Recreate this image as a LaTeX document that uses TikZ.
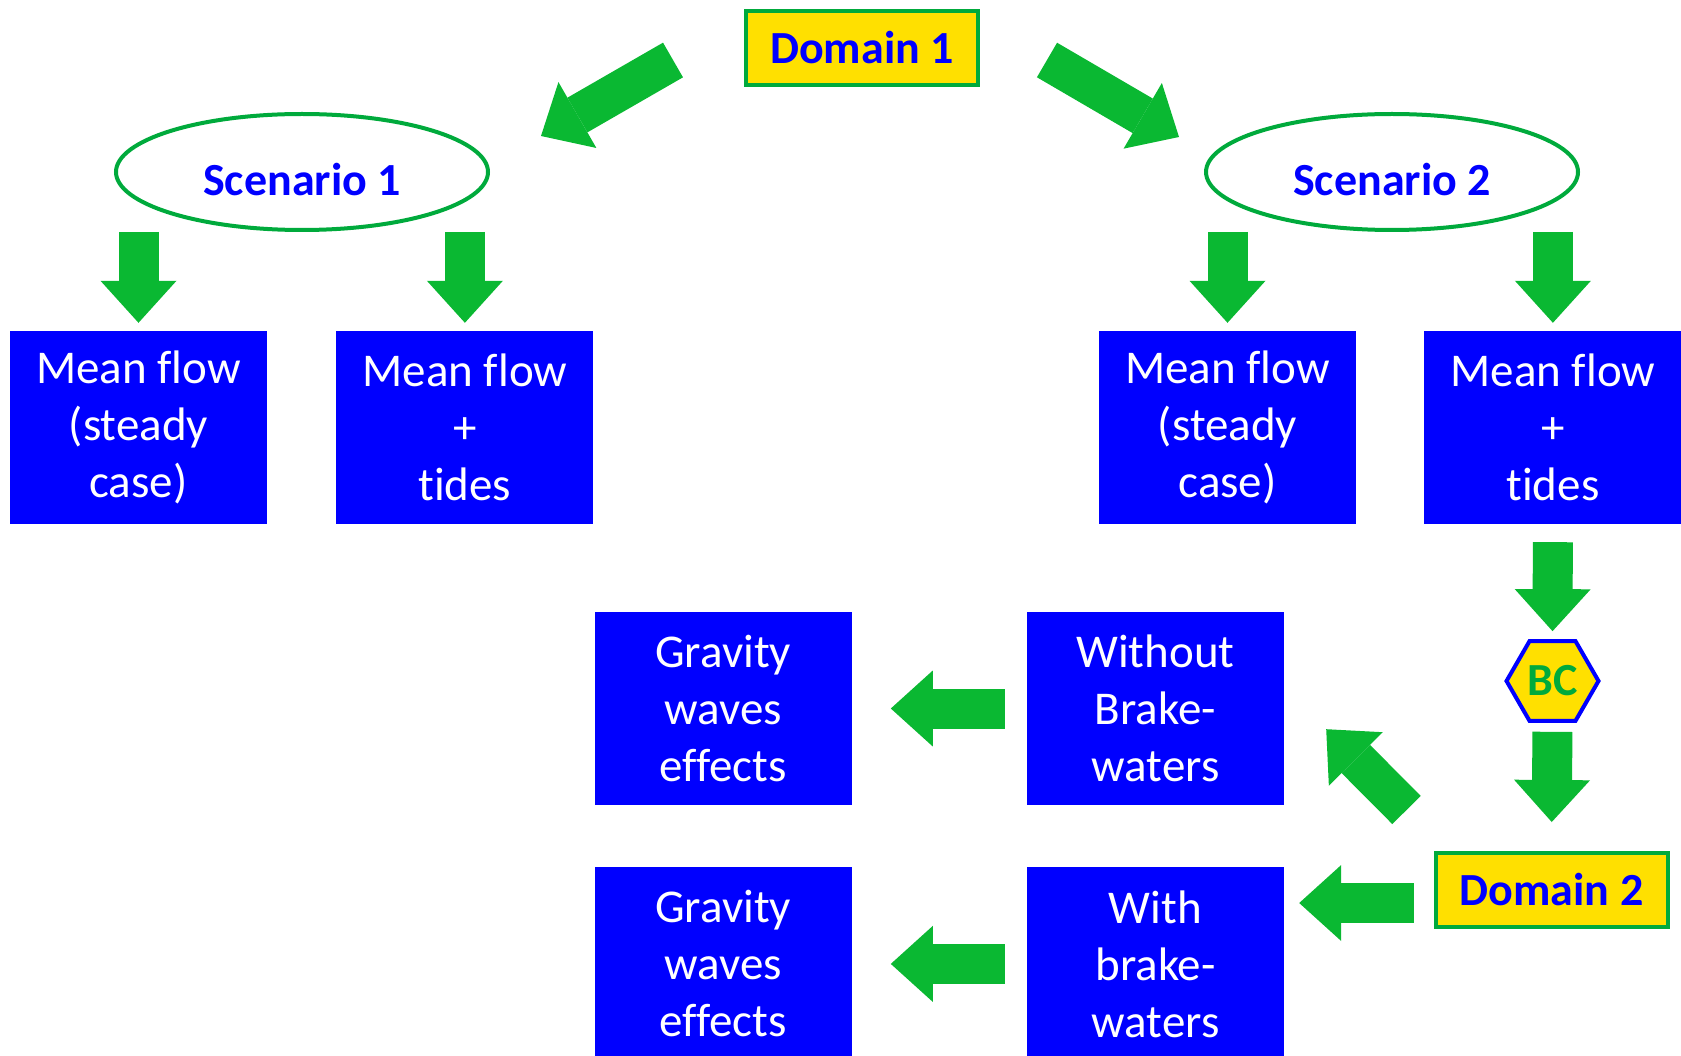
\documentclass[tikz,border=0pt]{standalone}
\usepackage{fontspec}
\setmainfont{Carlito}[Ligatures=NoCommon]
\usetikzlibrary{arrows.meta,positioning,shapes.geometric}
\definecolor{boxblue}{RGB}{0,0,255}
\definecolor{domyellow}{RGB}{255,224,0}
\definecolor{arrowgreen}{RGB}{10,184,50}
\definecolor{edgegreen}{RGB}{0,170,60}
\tikzset{
  flowbox/.style={
    fill=boxblue,
    text=white,
    align=center,
    inner sep=0pt,
    minimum width=257pt,
    minimum height=193pt,
    font=\fontsize{47pt}{57pt}\selectfont
  },
  domainbox/.style={
    fill=domyellow,
    draw=edgegreen,
    line width=4pt,
    text=boxblue,
    minimum width=232pt,
    minimum height=74pt,
    font=\fontsize{46pt}{55pt}\selectfont\bfseries
  },
  scenbox/.style={ellipse, draw=edgegreen, line width=4pt, fill=white,
    text=boxblue, minimum width=372pt, minimum height=116pt,
    text height=47pt, text depth=0pt,
    font=\fontsize{46pt}{55pt}\selectfont\bfseries},
  bcbox/.style={regular polygon, regular polygon sides=6, draw=boxblue,
    line width=4pt, fill=domyellow, text=edgegreen, inner sep=0pt,
    minimum size=92pt, font=\fontsize{46pt}{54pt}\selectfont\bfseries},
  bigarrow/.style={draw=arrowgreen, line width=40pt,
    -{Triangle[length=42pt, width=76pt, line width=0pt]}}
}
\begin{document}
\begin{tikzpicture}[x=1pt, y=-1pt]
        \path[use as bounding box, fill=white] (0,0) rectangle (1681,1056);
        % top of the tree
        \node[domainbox] (dom1) at (862,48) {Domain 1};
        \node[scenbox] (scen1) at (302,172) {Scenario 1};
        \node[scenbox] (scen2) at (1392,172) {Scenario 2};
        \node[flowbox] (s1steady) at (138.5,427.5) {Mean flow\\(steady\\case)};
        \node[flowbox, right=69pt of s1steady] (s1tides) {Mean flow\\+\\tides};
        \node[flowbox] (s2steady) at (1227.5,427.5) {Mean flow\\(steady\\case)};
        \node[flowbox, right=68pt of s2steady] (s2tides) {Mean flow\\+\\tides};
        % nested domain
        \node[bcbox] (bc) at (1552.5,681) {BC};
        \node[domainbox] (dom2) at (1551.5,890) {Domain 2};
        \node[flowbox] (nobrk) at (1155.5,708.5) {Without\\Brake-\\waters};
        \node[flowbox, left=175pt of nobrk] (grav1) {Gravity\\waves\\effects};
        \node[flowbox, below=62pt of nobrk] (brk) {With\\brake-\\waters};
        \node[flowbox, left=175pt of brk] (grav2) {Gravity\\waves\\effects};
        \draw[bigarrow] ([xshift=-71pt,yshift=-12pt]dom1.west) -- ([xshift=239pt,yshift=36pt]scen1.center);
        \draw[bigarrow] ([xshift=67pt,yshift=-12pt]dom1.east) -- ([xshift=-213pt,yshift=35pt]scen2.center);
        \draw[bigarrow, shorten >=8pt] (scen1.south -| s1steady.north) -- (s1steady.north);
        \draw[bigarrow, shorten >=8pt] (scen1.south -| s1tides.north) -- (s1tides.north);
        \draw[bigarrow, shorten >=8pt] (scen2.south -| s2steady.north) -- (s2steady.north);
        \draw[bigarrow, shorten >=8pt] (scen2.south -| s2tides.north) -- (s2tides.north);
        \draw[bigarrow, shorten <=18pt, shorten >=8pt] (s2tides.south) -- (bc.north);
        \draw[bigarrow, shorten <=9pt, shorten >=29pt] (bc.south) -- (dom2.north);
        \draw[bigarrow, shorten <=20pt, shorten >=15pt] ([yshift=-13pt]dom2.west) -- ([yshift=-13pt]dom2.west -| brk.east);
        \draw[bigarrow] ([xshift=-27pt,yshift=41pt]dom2.north west) -- ([xshift=42pt,yshift=76pt]nobrk.south east);
        \draw[bigarrow, shorten <=22pt, shorten >=39pt] (nobrk.west) -- (nobrk.west -| grav1.east);
        \draw[bigarrow, shorten <=22pt, shorten >=39pt] (brk.west) -- (brk.west -| grav2.east);
      \end{tikzpicture}
\end{document}
